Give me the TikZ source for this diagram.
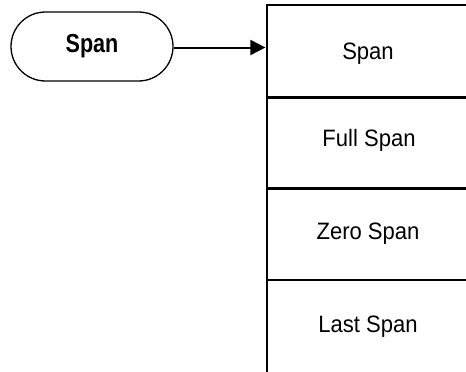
\documentclass[tikz,border=0pt]{standalone}
\usepackage{fontspec}
\setmainfont{Liberation Sans}
\newfontfamily\regf{Liberation Sans}[FakeStretch=0.93]
\newfontfamily\boldf{Liberation Sans}[FakeStretch=0.83]
\usetikzlibrary{arrows.meta,shapes.misc}
\begin{document}
\begin{tikzpicture}[x=1pt,y=-1pt,
  pill/.style={draw, line width=1.3pt, rounded rectangle, minimum width=162pt, minimum height=69pt, inner sep=0pt, font=\boldf\bfseries\fontsize{26}{26}\selectfont},
  item/.style={anchor=base, inner sep=0pt, font=\regf\fontsize{23.7}{24}\selectfont},
  sepline/.style={line width=2.3pt},
  conn/.style={line width=2pt, -{Triangle[length=15pt,width=15pt]}}]
\useasboundingbox (0,0) rectangle (466,372);
\node[pill] (span) at (92,46.5) {Span};
% menu panel
\coordinate (tl) at (266.7,5);
\coordinate (tr) at (467,5);
\coordinate (bl) at (266.7,373);
\coordinate (s1l) at (266.7,97.5);
\coordinate (s1r) at (467,97.5);
\coordinate (s2l) at (266.7,188.5);
\coordinate (s2r) at (467,188.5);
\coordinate (s3l) at (266.7,280);
\coordinate (s3r) at (467,280);
\draw[sepline] (tr) -- (tl) -- (bl);
\draw[sepline] (s1l) -- (s1r);
\draw[sepline] (s2l) -- (s2r);
\draw[sepline] (s3l) -- (s3r);
\node[item] (m1) at (368,59.3) {Span};
\node[item] (m2) at (369,146.7) {Full Span};
\node[item] (m3) at (368,239) {Zero Span};
\node[item] (m4) at (368,332) {Last Span};
\coordinate (tip) at (265.4,47.5);
\draw[conn] (span.east |- tip) -- (tip);
\end{tikzpicture}
\end{document}
